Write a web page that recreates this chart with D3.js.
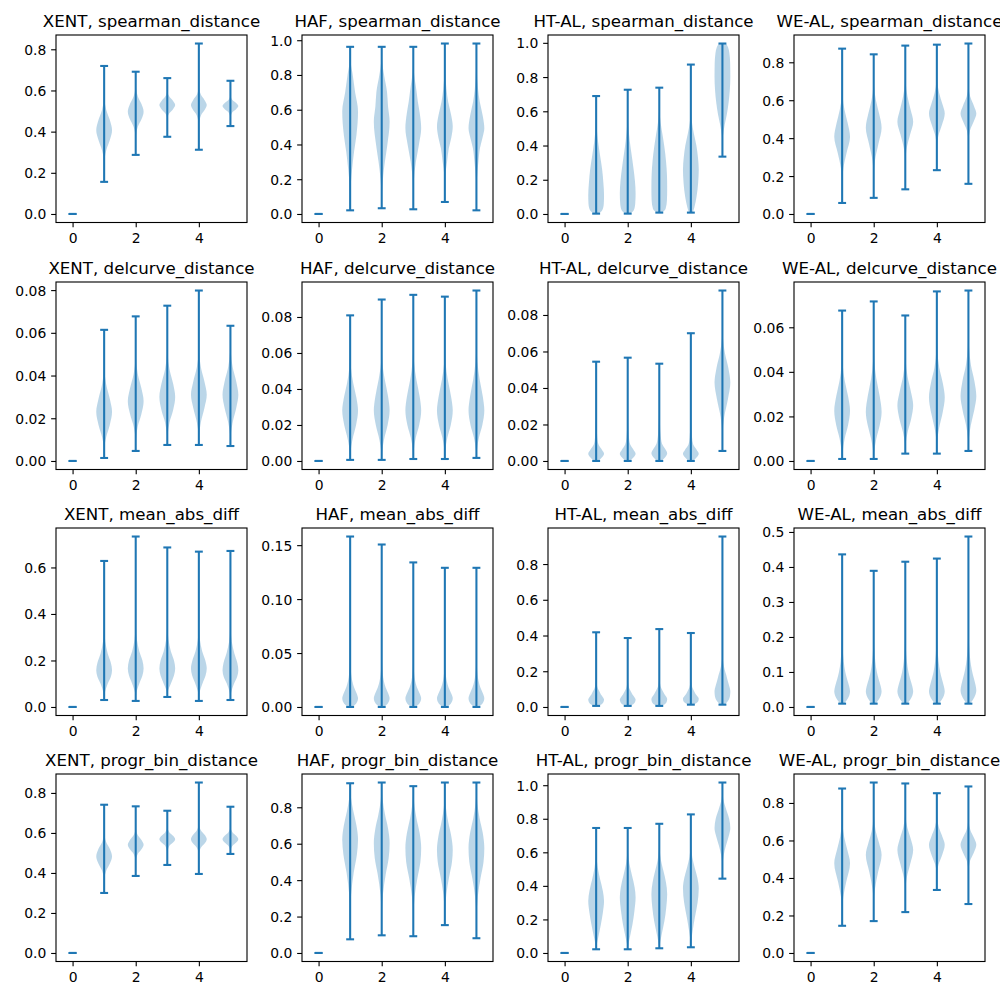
<!DOCTYPE html>
<html>
<head>
<meta charset="utf-8">
<title>Violin grid</title>
<script src="https://cdn.jsdelivr.net/npm/d3@7"></script>
<style>
  body { margin: 0; background: #fff; }
  svg { display: block; font-family: "DejaVu Sans", sans-serif; }
</style>
</head>
<body>
<svg id="chart" width="1000" height="1000"></svg>
<script>
// ---- data ----
const models = ["XENT", "HAF", "HT-AL", "WE-AL"];
const metrics = ["spearman_distance", "delcurve_distance", "mean_abs_diff", "progr_bin_distance"];
const positions = [0, 1, 2, 3, 4, 5];
const xTickLabels = ["0", "2", "4"];

const spearmanTicks = [
  ["0.0", "0.2", "0.4", "0.6", "0.8"],
  ["0.0", "0.2", "0.4", "0.6", "0.8", "1.0"],
  ["0.0", "0.2", "0.4", "0.6", "0.8", "1.0"],
  ["0.0", "0.2", "0.4", "0.6", "0.8"]
];
const delcurveTicks = [
  ["0.00", "0.02", "0.04", "0.06", "0.08"],
  ["0.00", "0.02", "0.04", "0.06", "0.08"],
  ["0.00", "0.02", "0.04", "0.06", "0.08"],
  ["0.00", "0.02", "0.04", "0.06"]
];
const meanAbsTicks = [
  ["0.0", "0.2", "0.4", "0.6"],
  ["0.00", "0.05", "0.10", "0.15"],
  ["0.0", "0.2", "0.4", "0.6", "0.8"],
  ["0.0", "0.1", "0.2", "0.3", "0.4", "0.5"]
];
const progrBinTicks = [
  ["0.0", "0.2", "0.4", "0.6", "0.8"],
  ["0.0", "0.2", "0.4", "0.6", "0.8"],
  ["0.0", "0.2", "0.4", "0.6", "0.8", "1.0"],
  ["0.0", "0.2", "0.4", "0.6", "0.8"]
];

// each violin: [value, relative half-width] from its min (first) to its max (last)
const zero = [[0, 0], [0, 0]];

const spearmanShapes = [
  [ // XENT
    zero,
    [[.156,0],[.24,.02],[.31,.27],[.36,.73],[.407,1],[.455,.73],[.505,.27],[.56,.05],[.64,.005],[.719,0]],
    [[.287,0],[.37,.03],[.425,.28],[.46,.73],[.497,1],[.534,.73],[.57,.28],[.61,.05],[.691,0]],
    [[.375,0],[.46,.02],[.49,.28],[.509,.73],[.529,1],[.549,.73],[.569,.28],[.59,.05],[.62,.005],[.66,0]],
    [[.312,0],[.43,.02],[.48,.28],[.505,.73],[.529,1],[.553,.73],[.578,.28],[.61,.05],[.66,.005],[.828,0]],
    [[.427,0],[.47,.03],[.494,.25],[.509,.72],[.524,1],[.539,.72],[.554,.25],[.572,.04],[.6,.004],[.647,0]]
  ],
  [ // HAF
    zero,
    [[.021,0],[.1,.02],[.17,.08],[.26,.25],[.36,.5],[.455,.8],[.59,1],[.7,.63],[.8,.33],[.877,.06],[.962,0]],
    [[.033,0],[.1,.02],[.16,.08],[.224,.2],[.3,.4],[.4,.72],[.531,1],[.62,.8],[.704,.67],[.8,.3],[.877,.06],[.962,0]],
    [[.027,0],[.1,.02],[.186,.06],[.3,.33],[.4,.72],[.493,1],[.58,.82],[.646,.58],[.704,.42],[.838,.05],[.962,0]],
    [[.069,0],[.15,.02],[.224,.07],[.3,.28],[.378,.5],[.44,.82],[.503,1],[.58,.75],[.646,.42],[.72,.2],[.819,.05],[.981,0]],
    [[.021,0],[.12,.02],[.2,.06],[.3,.25],[.38,.45],[.44,.78],[.493,1],[.57,.78],[.646,.42],[.72,.2],[.838,.04],[.981,0]]
  ],
  [ // HT-AL
    zero,
    [[.002,.3],[.02,.75],[.06,.97],[.11,1],[.18,.92],[.26,.76],[.34,.5],[.42,.25],[.5,.08],[.58,.015],[.689,0]],
    [[.002,.3],[.02,.75],[.06,.95],[.12,1],[.19,.92],[.27,.72],[.35,.48],[.43,.25],[.51,.09],[.6,.015],[.726,0]],
    [[.008,.35],[.03,.8],[.08,.97],[.15,1],[.23,.97],[.31,.85],[.39,.65],[.46,.42],[.53,.18],[.6,.04],[.67,.005],[.738,0]],
    [[.008,.25],[.04,.45],[.1,.72],[.18,.92],[.26,1],[.33,.9],[.4,.7],[.47,.38],[.54,.12],[.62,.02],[.873,0]],
    [[.335,0],[.4,.01],[.46,.08],[.52,.28],[.58,.55],[.65,.78],[.72,.93],[.8,1],[.88,.98],[.94,.88],[.975,.7],[.996,.45]]
  ],
  [ // WE-AL
    zero,
    [[.058,0],[.16,.02],[.24,.15],[.32,.55],[.407,1],[.48,.7],[.55,.3],[.62,.07],[.72,.005],[.872,0]],
    [[.085,0],[.2,.02],[.28,.15],[.37,.6],[.455,1],[.53,.68],[.6,.28],[.67,.06],[.76,.005],[.842,0]],
    [[.13,0],[.27,.02],[.34,.15],[.42,.62],[.486,1],[.55,.68],[.62,.28],[.69,.06],[.78,.005],[.888,0]],
    [[.231,0],[.35,.02],[.41,.18],[.47,.65],[.53,1],[.58,.7],[.64,.28],[.7,.06],[.78,.005],[.893,0]],
    [[.159,0],[.38,.01],[.44,.2],[.49,.7],[.53,1],[.57,.7],[.62,.22],[.67,.04],[.75,.003],[.899,0]]
  ]
];

const delcurveShapes = [
  [ // XENT
    zero,
    [[.0014,0],[.006,.03],[.011,.25],[.017,.72],[.023,1],[.029,.72],[.036,.25],[.043,.04],[.05,.005],[.0614,0]],
    [[.0047,0],[.01,.03],[.016,.25],[.022,.72],[.028,1],[.034,.72],[.041,.25],[.048,.04],[.056,.004],[.0677,0]],
    [[.0075,0],[.012,.04],[.018,.28],[.024,.75],[.03,1],[.036,.75],[.043,.28],[.05,.05],[.058,.005],[.0727,0]],
    [[.0075,0],[.012,.03],[.018,.25],[.025,.72],[.031,1],[.037,.72],[.044,.25],[.051,.04],[.06,.004],[.0798,0]],
    [[.007,0],[.012,.04],[.018,.28],[.025,.75],[.031,1],[.037,.75],[.044,.28],[.051,.05],[.057,.008],[.0633,0]]
  ],
  [ // HAF
    zero,
    [[.0006,0],[.005,.05],[.012,.3],[.02,.75],[.028,1],[.035,.8],[.043,.4],[.052,.1],[.062,.015],[.0809,0]],
    [[.0006,0],[.005,.05],[.012,.3],[.02,.75],[.028,1],[.036,.8],[.045,.4],[.054,.1],[.065,.015],[.0897,0]],
    [[.0011,0],[.006,.06],[.013,.32],[.02,.75],[.028,1],[.036,.8],[.045,.4],[.055,.1],[.066,.015],[.0923,0]],
    [[.0011,0],[.006,.06],[.013,.32],[.02,.75],[.028,1],[.036,.78],[.045,.38],[.054,.1],[.065,.015],[.0913,0]],
    [[.0017,0],[.006,.06],[.013,.32],[.02,.75],[.028,1],[.036,.8],[.045,.42],[.055,.12],[.066,.02],[.0947,0]]
  ],
  [ // HT-AL
    zero,
    [[0,.3],[.002,.75],[.004,1],[.006,.75],[.009,.3],[.013,.14],[.018,.08],[.024,.03],[.032,.005],[.0544,0]],
    [[0,.3],[.002,.75],[.004,1],[.006,.75],[.009,.32],[.013,.15],[.018,.08],[.025,.03],[.033,.005],[.0566,0]],
    [[0,.3],[.002,.75],[.0042,1],[.0065,.75],[.0095,.35],[.014,.17],[.02,.09],[.027,.03],[.035,.005],[.0533,0]],
    [[0,.3],[.002,.75],[.004,1],[.006,.75],[.009,.3],[.013,.15],[.019,.08],[.026,.03],[.035,.005],[.07,0]],
    [[.0055,0],[.015,.03],[.024,.22],[.034,.7],[.043,1],[.051,.75],[.059,.32],[.067,.07],[.076,.008],[.0934,0]]
  ],
  [ // WE-AL
    zero,
    [[.0009,0],[.004,.06],[.01,.32],[.016,.75],[.0225,1],[.029,.75],[.036,.33],[.043,.08],[.052,.01],[.0675,0]],
    [[.0009,0],[.004,.06],[.01,.33],[.016,.76],[.022,1],[.029,.76],[.037,.33],[.045,.08],[.055,.01],[.0716,0]],
    [[.0033,0],[.008,.06],[.013,.3],[.019,.75],[.025,1],[.031,.72],[.038,.28],[.045,.06],[.053,.006],[.0653,0]],
    [[.0033,0],[.009,.05],[.015,.3],[.022,.75],[.0285,1],[.035,.75],[.042,.3],[.05,.06],[.059,.006],[.0761,0]],
    [[.0045,0],[.01,.06],[.016,.3],[.023,.75],[.029,1],[.036,.75],[.043,.32],[.051,.08],[.06,.01],[.0765,0]]
  ]
];

const meanAbsShapes = [
  [ // XENT
    zero,
    [[.03,0],[.06,.08],[.1,.45],[.13,.85],[.158,1],[.19,.85],[.23,.45],[.28,.15],[.33,.04],[.42,.005],[.628,0]],
    [[.026,0],[.06,.08],[.1,.45],[.135,.85],[.165,1],[.2,.85],[.24,.45],[.29,.15],[.34,.04],[.43,.005],[.733,0]],
    [[.043,0],[.07,.1],[.1,.45],[.135,.85],[.165,1],[.2,.85],[.24,.45],[.29,.15],[.34,.04],[.43,.005],[.686,0]],
    [[.026,0],[.06,.08],[.1,.45],[.135,.85],[.165,1],[.2,.82],[.24,.42],[.29,.13],[.34,.03],[.43,.004],[.668,0]],
    [[.03,0],[.06,.08],[.1,.45],[.13,.85],[.158,1],[.19,.87],[.23,.5],[.28,.17],[.33,.05],[.42,.006],[.671,0]]
  ],
  [ // HAF
    zero,
    [[0,.3],[.003,.75],[.008,1],[.013,.8],[.018,.5],[.024,.27],[.03,.14],[.038,.06],[.05,.015],[.075,.002],[.158,0]],
    [[0,.3],[.003,.75],[.008,1],[.013,.8],[.018,.5],[.024,.27],[.03,.14],[.038,.06],[.05,.015],[.075,.002],[.1506,0]],
    [[0,.3],[.003,.75],[.008,1],[.013,.78],[.018,.47],[.024,.24],[.03,.12],[.038,.05],[.05,.012],[.075,.002],[.134,0]],
    [[0,.3],[.003,.75],[.008,1],[.013,.78],[.018,.47],[.024,.24],[.03,.12],[.038,.05],[.05,.012],[.075,.002],[.129,0]],
    [[0,.3],[.003,.75],[.008,1],[.013,.8],[.018,.5],[.024,.27],[.03,.14],[.038,.06],[.05,.015],[.075,.002],[.129,0]]
  ],
  [ // HT-AL
    zero,
    [[.006,.3],[.015,.7],[.03,.95],[.042,1],[.055,.85],[.07,.6],[.088,.4],[.105,.2],[.125,.1],[.15,.03],[.2,.004],[.418,0]],
    [[.006,.3],[.015,.7],[.03,.95],[.042,1],[.055,.85],[.07,.6],[.088,.38],[.105,.19],[.125,.09],[.15,.03],[.2,.004],[.386,0]],
    [[.006,.3],[.015,.7],[.03,.95],[.044,1],[.058,.86],[.074,.62],[.092,.4],[.11,.2],[.13,.1],[.16,.03],[.21,.004],[.436,0]],
    [[.013,.35],[.022,.72],[.034,.95],[.046,1],[.058,.85],[.073,.6],[.09,.4],[.107,.2],[.127,.1],[.155,.03],[.2,.004],[.414,0]],
    [[.013,.3],[.025,.55],[.045,.85],[.07,.98],[.09,1],[.115,.88],[.145,.68],[.18,.48],[.21,.28],[.24,.13],[.28,.04],[.33,.008],[.954,0]]
  ],
  [ // WE-AL
    zero,
    [[.0095,.25],[.02,.6],[.033,.9],[.045,1],[.06,.88],[.08,.62],[.1,.4],[.13,.2],[.17,.07],[.22,.015],[.28,.002],[.436,0]],
    [[.0095,.25],[.02,.6],[.033,.9],[.045,1],[.06,.88],[.08,.62],[.1,.4],[.13,.2],[.17,.07],[.22,.015],[.28,.002],[.389,0]],
    [[.0095,.25],[.02,.6],[.033,.9],[.045,1],[.06,.88],[.08,.62],[.1,.4],[.13,.2],[.17,.07],[.22,.015],[.28,.002],[.415,0]],
    [[.0095,.25],[.02,.6],[.033,.9],[.045,1],[.06,.88],[.08,.64],[.1,.42],[.13,.22],[.17,.08],[.22,.018],[.28,.002],[.424,0]],
    [[.0095,.22],[.02,.55],[.034,.88],[.047,1],[.063,.9],[.084,.66],[.105,.44],[.135,.23],[.175,.09],[.23,.02],[.29,.003],[.487,0]]
  ]
];

const progrBinShapes = [
  [ // XENT
    zero,
    [[.3,0],[.37,.03],[.41,.25],[.447,.73],[.482,1],[.52,.73],[.555,.25],[.6,.04],[.65,.005],[.741,0]],
    [[.385,0],[.46,.02],[.494,.25],[.518,.73],[.541,1],[.565,.73],[.59,.25],[.62,.04],[.66,.004],[.733,0]],
    [[.44,0],[.5,.02],[.535,.25],[.552,.73],[.569,1],[.586,.73],[.604,.25],[.628,.03],[.66,.003],[.711,0]],
    [[.395,0],[.49,.02],[.526,.25],[.547,.73],[.569,1],[.591,.73],[.614,.25],[.645,.04],[.7,.004],[.852,0]],
    [[.495,0],[.51,.02],[.535,.25],[.552,.73],[.569,1],[.586,.73],[.604,.25],[.628,.03],[.66,.003],[.731,0]]
  ],
  [ // HAF
    zero,
    [[.075,0],[.2,.02],[.32,.12],[.44,.45],[.54,.85],[.622,1],[.7,.8],[.78,.4],[.85,.12],[.9,.03],[.932,.005]],
    [[.097,0],[.2,.02],[.32,.15],[.43,.5],[.52,.88],[.603,1],[.68,.82],[.76,.42],[.84,.12],[.9,.03],[.936,.005]],
    [[.092,0],[.2,.03],[.31,.17],[.41,.52],[.5,.9],[.576,1],[.66,.8],[.74,.4],[.82,.12],[.88,.03],[.916,.005]],
    [[.153,0],[.22,.03],[.32,.18],[.42,.55],[.5,.9],[.566,1],[.64,.82],[.72,.42],[.8,.13],[.87,.03],[.936,.003]],
    [[.081,0],[.2,.03],[.31,.17],[.41,.52],[.5,.9],[.576,1],[.66,.8],[.74,.4],[.82,.12],[.88,.03],[.936,.003]]
  ],
  [ // HT-AL
    zero,
    [[.022,0],[.05,.08],[.1,.3],[.17,.6],[.24,.85],[.31,1],[.37,.85],[.44,.5],[.51,.2],[.58,.05],[.65,.008],[.745,0]],
    [[.022,0],[.05,.08],[.1,.3],[.17,.6],[.25,.85],[.33,1],[.39,.88],[.46,.55],[.53,.22],[.6,.05],[.67,.008],[.745,0]],
    [[.028,0],[.06,.1],[.12,.35],[.19,.65],[.27,.88],[.35,1],[.42,.85],[.49,.52],[.55,.22],[.62,.05],[.69,.008],[.77,0]],
    [[.034,0],[.07,.05],[.13,.22],[.21,.5],[.3,.85],[.385,1],[.45,.82],[.51,.48],[.57,.18],[.64,.04],[.72,.005],[.826,0]],
    [[.443,0],[.52,.02],[.58,.15],[.64,.45],[.7,.82],[.745,1],[.8,.85],[.86,.45],[.92,.1],[.97,.015],[1.016,0]]
  ],
  [ // WE-AL
    zero,
    [[.145,0],[.23,.02],[.3,.15],[.38,.52],[.479,1],[.55,.65],[.62,.25],[.69,.05],[.77,.005],[.877,0]],
    [[.17,0],[.27,.02],[.34,.15],[.43,.55],[.523,1],[.59,.65],[.65,.25],[.72,.05],[.8,.005],[.909,0]],
    [[.218,0],[.33,.02],[.4,.18],[.47,.6],[.55,1],[.61,.68],[.67,.25],[.73,.05],[.8,.005],[.904,0]],
    [[.336,0],[.42,.02],[.47,.2],[.52,.65],[.577,1],[.62,.7],[.67,.25],[.72,.05],[.78,.005],[.852,0]],
    [[.261,0],[.43,.01],[.49,.2],[.535,.68],[.577,1],[.615,.7],[.655,.25],[.7,.05],[.76,.005],[.888,0]]
  ]
];

// ---- layout ----
const axLeft = [56, 302, 548, 794];
const axTop = [35, 282, 528, 774];
const axW = 191, axH = 187.5;
const blue = "#1f77b4";
const tickLen = 4.86, tickPad = 4.86;

const rows = [
  { ticks: spearmanTicks, shapes: spearmanShapes },
  { ticks: delcurveTicks, shapes: delcurveShapes },
  { ticks: meanAbsTicks, shapes: meanAbsShapes },
  { ticks: progrBinTicks, shapes: progrBinShapes }
];

const svg = d3.select("#chart");

rows.forEach(function(row, r) {
  models.forEach(function(model, c) {
    const violins = row.shapes[c];
    const g = svg.append("g")
      .attr("transform", "translate(" + axLeft[c] + "," + axTop[r] + ")");

    // matplotlib-style autoscale: data range plus 5% margins
    const vals = violins.flat().map(function(k){ return k[0]; });
    const lo = d3.min(vals), hi = d3.max(vals), pad = (hi - lo) * 0.05;

    const x = d3.scaleLinear().domain([-0.525, 5.525]).range([0, axW]);
    const y = d3.scaleLinear().domain([lo - pad, hi + pad]).range([axH, 0]);

    // bodies
    violins.forEach(function(knots, i) {
      if (knots[0][0] === knots[knots.length - 1][0]) return;
      const p = positions[i];
      const area = d3.area()
        .curve(d3.curveMonotoneY)
        .y(function(k){ return y(k[0]); })
        .x0(function(k){ return x(p - 0.25 * k[1]); })
        .x1(function(k){ return x(p + 0.25 * k[1]); });
      g.append("path")
        .attr("d", area(knots))
        .attr("fill", blue)
        .attr("fill-opacity", 0.3);
    });

    // whiskers and caps
    violins.forEach(function(knots, i) {
      const p = positions[i];
      const ext = d3.extent(knots, function(k){ return k[0]; });
      g.append("line")
        .attr("x1", x(p)).attr("x2", x(p))
        .attr("y1", y(ext[0])).attr("y2", y(ext[1]))
        .attr("stroke", blue).attr("stroke-width", 2.08);
      ext.forEach(function(v) {
        g.append("line")
          .attr("x1", x(p - 0.125)).attr("x2", x(p + 0.125))
          .attr("y1", y(v)).attr("y2", y(v))
          .attr("stroke", blue).attr("stroke-width", 2.08);
      });
    });

    // axes
    const yLabels = row.ticks[c];
    const yAxis = d3.axisLeft(y)
      .tickValues(yLabels.map(Number))
      .tickFormat(function(d, i){ return yLabels[i]; })
      .tickSize(tickLen).tickPadding(tickPad);
    const xAxis = d3.axisBottom(x)
      .tickValues(xTickLabels.map(Number))
      .tickFormat(function(d, i){ return xTickLabels[i]; })
      .tickSize(tickLen).tickPadding(tickPad);

    const ya = g.append("g").call(yAxis);
    const xa = g.append("g").attr("transform", "translate(0," + axH + ")").call(xAxis);
    [ya, xa].forEach(function(a) {
      a.select(".domain").remove();
      a.selectAll("line").attr("stroke", "#000").attr("stroke-width", 1.11);
      a.selectAll("text")
        .attr("fill", "#000")
        .style("font-family", "'DejaVu Sans', sans-serif")
        .style("font-size", "13.9px");
    });
    ya.selectAll("text").attr("dy", "0.36em");
    xa.selectAll("text").attr("dy", "0.76em");

    g.append("rect")
      .attr("x", 0).attr("y", 0)
      .attr("width", axW).attr("height", axH)
      .attr("fill", "none")
      .attr("stroke", "#000")
      .attr("stroke-width", 1.11);

    g.append("text")
      .attr("x", axW / 2)
      .attr("y", -8.3)
      .attr("text-anchor", "middle")
      .style("font-size", "16.67px")
      .attr("fill", "#000")
      .text(model + ", " + metrics[r]);
  });
});
</script>
</body>
</html>
